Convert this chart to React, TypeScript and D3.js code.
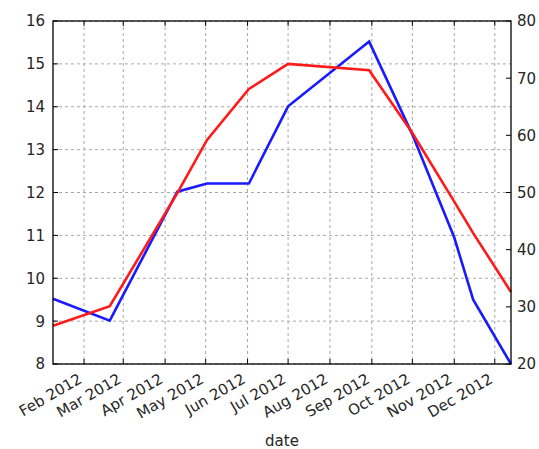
import React from "react";
import * as d3 from "d3";

// Observation dates shared by both series
const dates = [
  "2012-01-09",
  "2012-02-20",
  "2012-04-10",
  "2012-05-02",
  "2012-06-02",
  "2012-07-01",
  "2012-08-30",
  "2012-10-01",
  "2012-11-01",
  "2012-11-15",
  "2012-12-13",
];

// Primary (left axis) series
const primaryValues = [9.52, 9.01, 12.02, 12.21, 12.21, 14.01, 15.52, 13.35, 10.95, 9.5, 8.0];

// Secondary (right axis) series
const secondaryValues = [26.7, 30.1, 49.9, 59.2, 68.1, 72.5, 71.4, 60.4, 48.4, 42.9, 32.6];

const monthLabels = [
  "Feb 2012",
  "Mar 2012",
  "Apr 2012",
  "May 2012",
  "Jun 2012",
  "Jul 2012",
  "Aug 2012",
  "Sep 2012",
  "Oct 2012",
  "Nov 2012",
  "Dec 2012",
];

const leftTicks = [8, 9, 10, 11, 12, 13, 14, 15, 16];
const rightTicks = [20, 30, 40, 50, 60, 70, 80];

const W = 539;
const H = 449;
const M = { left: 53, right: 511, top: 21, bottom: 364 };
const FONT = "'DejaVu Sans', sans-serif";
const TEXT = "#262626";
const FS = 15;

export default function App() {
  const parseDay = d3.timeParse("%Y-%m-%d");
  const parseMonth = d3.timeParse("%b %Y");
  const xDates = dates.map((d) => parseDay(d) as Date);
  const monthDates = monthLabels.map((m) => parseMonth(m) as Date);

  const x = d3
    .scaleTime()
    .domain([xDates[0], xDates[xDates.length - 1]])
    .range([M.left, M.right]);
  const yL = d3.scaleLinear().domain([8, 16]).range([M.bottom, M.top]);
  const yR = d3.scaleLinear().domain([20, 80]).range([M.bottom, M.top]);

  const lineL = d3
    .line<number>()
    .x((_, i) => x(xDates[i]))
    .y((v) => yL(v));
  const lineR = d3
    .line<number>()
    .x((_, i) => x(xDates[i]))
    .y((v) => yR(v));

  const tickLen = 5;

  return (
    <svg
      width={W}
      height={H}
      style={{ position: "absolute", left: 0, top: 0, background: "#fff" }}
      fontFamily={FONT}
    >
      <rect x={0} y={0} width={W} height={H} fill="#fff" />
      {/* grid */}
      <g stroke="#a8a8a8" strokeWidth={1} strokeDasharray="3,3">
        {leftTicks.map((t) => (
          <line key={"gy" + t} x1={M.left} x2={M.right} y1={yL(t)} y2={yL(t)} />
        ))}
        {monthDates.map((d, i) => (
          <line key={"gx" + i} x1={x(d)} x2={x(d)} y1={M.top} y2={M.bottom} />
        ))}
      </g>

      {/* series */}
      <path
        d={lineL(primaryValues) || ""}
        fill="none"
        stroke="#1a1aff"
        strokeWidth={2.6}
        strokeLinejoin="miter"
      />
      <path
        d={lineR(secondaryValues) || ""}
        fill="none"
        stroke="#ff1a1a"
        strokeWidth={2.6}
        strokeLinejoin="miter"
      />

      {/* ticks (inward) */}
      <g stroke="#000" strokeWidth={1}>
        {leftTicks.map((t) => (
          <line key={"lt" + t} x1={M.left} x2={M.left + tickLen} y1={yL(t)} y2={yL(t)} />
        ))}
        {rightTicks.map((t) => (
          <line key={"rt" + t} x1={M.right - tickLen} x2={M.right} y1={yR(t)} y2={yR(t)} />
        ))}
        {monthDates.map((d, i) => (
          <g key={"xt" + i}>
            <line x1={x(d)} x2={x(d)} y1={M.bottom} y2={M.bottom - tickLen} />
            <line x1={x(d)} x2={x(d)} y1={M.top} y2={M.top + tickLen} />
          </g>
        ))}
      </g>

      {/* frame */}
      <rect
        x={M.left}
        y={M.top}
        width={M.right - M.left}
        height={M.bottom - M.top}
        fill="none"
        stroke="#000"
        strokeWidth={1.3}
      />

      {/* left axis labels */}
      <g fontSize={FS} fill={TEXT} textAnchor="end">
        {leftTicks.map((t) => (
          <text key={"ll" + t} x={M.left - 8} y={yL(t)} dy="0.36em">
            {t}
          </text>
        ))}
      </g>

      {/* right axis labels */}
      <g fontSize={FS} fill={TEXT} textAnchor="start">
        {rightTicks.map((t) => (
          <text key={"rl" + t} x={M.right + 6} y={yR(t)} dy="0.36em">
            {t}
          </text>
        ))}
      </g>

      {/* x labels */}
      <g fontSize={FS} fill={TEXT} textAnchor="end">
        {monthDates.map((d, i) => (
          <text
            key={"xl" + i}
            transform={`translate(${x(d) - 1},${M.bottom + 18}) rotate(-30)`}
          >
            {monthLabels[i]}
          </text>
        ))}
      </g>

      <text
        x={(M.left + M.right) / 2}
        y={446}
        fontSize={FS}
        fill={TEXT}
        textAnchor="middle"
      >
        date
      </text>
    </svg>
  );
}
